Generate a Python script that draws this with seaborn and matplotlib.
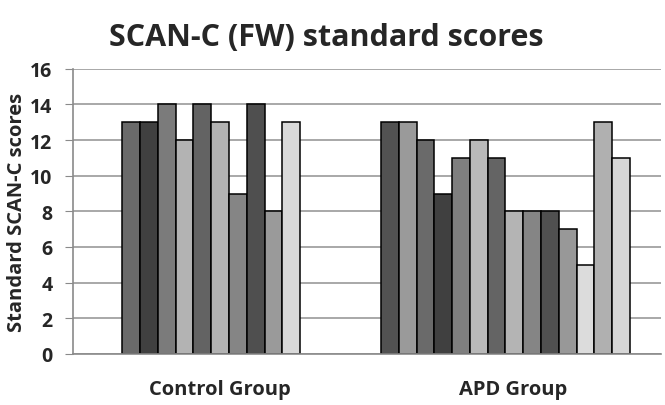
import pandas as pd
import matplotlib.pyplot as plt
import seaborn as sns

groups = ["Control Group", "APD Group"]
control_scores = [13, 13, 14, 12, 14, 13, 9, 14, 8, 13]
apd_scores = [13, 13, 12, 9, 11, 12, 11, 8, 8, 8, 7, 5, 13, 11]
control_colors = ["#6a6a6a", "#404040", "#7b7b7b", "#b3b3b3", "#636363",
                  "#b3b3b3", "#858585", "#4f4f4f", "#9a9a9a", "#d9d9d9"]
apd_colors = ["#525252", "#9a9a9a", "#6a6a6a", "#404040", "#7f7f7f", "#b9b9b9",
              "#646464", "#b4b4b4", "#858585", "#505050", "#989898", "#dcdcdc",
              "#b0b0b0", "#d6d6d6"]

# bar positions: one unit per bar, APD block shifted right
apd_start = 14.55
pos = list(range(len(control_scores))) + [apd_start + i for i in range(len(apd_scores))]
df = pd.DataFrame({
    "pos": pos,
    "score": control_scores + apd_scores,
    "bar": [str(i) for i in range(len(pos))],
})

sns.set_style("white")
plt.rcParams["font.family"] = ["Open Sans", "DejaVu Sans"]

fig = plt.figure(figsize=(6.65, 4.06), dpi=100)
ax = fig.add_axes([0.11, 0.126, 0.884, 0.702])
ax.yaxis.grid(True, color="#9a9a9a", linewidth=1.2)
ax.set_axisbelow(True)

sns.barplot(data=df, x="pos", y="score", hue="bar", palette=control_colors + apd_colors,
            native_scale=True, dodge=False, width=1, edgecolor="black", linewidth=1.1,
            legend=False, ax=ax)

ax.set_xlim(-3.27, 29.8)
ax.set_ylim(0, 16)
ax.set_yticks(range(0, 17, 2))
ax.set_yticklabels([str(v) for v in range(0, 17, 2)], fontsize=14, fontweight="bold")
ax.set_xticks([5.0, 21.5])
ax.set_xticklabels(groups, fontsize=14.5, fontweight="bold")
ax.tick_params(axis="x", length=0, pad=18)
ax.tick_params(axis="y", length=6, color="#8a8a8a", direction="out", left=True, pad=9)
ax.set_xlabel("")
ax.set_ylabel("Standard SCAN-C scores", fontsize=14.5, fontweight="bold", labelpad=2)

for s in ["top", "right"]:
    ax.spines[s].set_visible(False)
for s in ["left", "bottom"]:
    ax.spines[s].set_color("#8a8a8a")
    ax.spines[s].set_linewidth(1.2)

fig.text(0.49, 0.87, "SCAN-C (FW) standard scores", ha="center", va="bottom",
         fontsize=22, fontweight="bold")

fig.savefig("out.png", dpi=100)
